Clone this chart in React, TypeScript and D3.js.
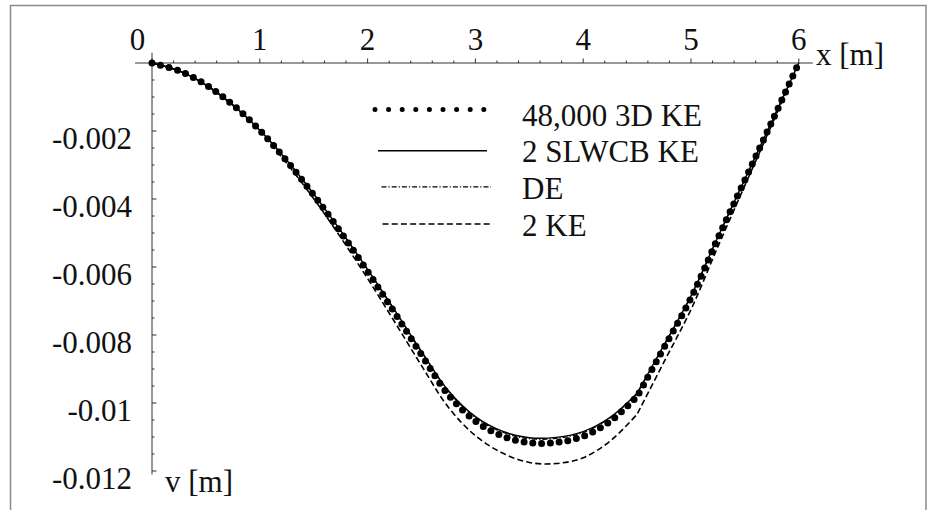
import React from "react";
import * as d3 from "d3";

const xValues = [0, 0.25, 0.5, 0.75, 1, 1.25, 1.5, 1.75, 2, 2.25, 2.5, 2.75, 3, 3.25, 3.5, 3.75, 4, 4.25, 4.5, 4.75, 5, 5.25, 5.5, 5.75, 6];
const ke3d = [0, -0.00023, -0.00064, -0.00123, -0.00198, -0.00288, -0.00388, -0.00497, -0.00613, -0.00734, -0.00858, -0.00976, -0.01053, -0.01097, -0.01117, -0.01116, -0.01098, -0.01054, -0.00981, -0.00837, -0.00691, -0.00515, -0.00344, -0.00173, 0];
const slwcb = [0, -0.00023, -0.00064, -0.00123, -0.00198, -0.00286, -0.00385, -0.00493, -0.00607, -0.00726, -0.00848, -0.00964, -0.0104, -0.01083, -0.01102, -0.01101, -0.01084, -0.01042, -0.00971, -0.00829, -0.00685, -0.00511, -0.00341, -0.00172, 0];
const de = [0, -0.00023, -0.00064, -0.00123, -0.00198, -0.00286, -0.00386, -0.00494, -0.00608, -0.00728, -0.0085, -0.00966, -0.01043, -0.01086, -0.01105, -0.01104, -0.01087, -0.01044, -0.00973, -0.00831, -0.00686, -0.00512, -0.00342, -0.00172, 0];
const ke2 = [0, -0.00023, -0.00065, -0.00125, -0.00202, -0.00295, -0.00399, -0.00513, -0.00634, -0.00761, -0.0089, -0.01013, -0.01096, -0.01147, -0.01175, -0.01178, -0.01161, -0.01112, -0.01033, -0.00879, -0.00725, -0.0054, -0.0036, -0.00181, 0];
const kinkX = 4.5;

const xTickValues = [0, 1, 2, 3, 4, 5, 6];
const yTickValues = [-0.002, -0.004, -0.006, -0.008, -0.01, -0.012];
const yTickLabels = ["-0.002", "-0.004", "-0.006", "-0.008", "-0.01", "-0.012"];
const legendLabels = ["48,000 3D KE", "2 SLWCB KE", "DE", "2 KE"];

const W = 934;
const H = 510;
const FONT = "Liberation Serif, Times New Roman, serif";
const FS = 31;

const x = d3.scaleLinear().domain([0, 6]).range([152, 798.8]);
const y = d3.scaleLinear().domain([-0.012, 0]).range([471, 63]);

function pathFor(vals: number[]): string {
  const pts = xValues.map((xv, i) => [xv, vals[i]] as [number, number]);
  const left = pts.filter((p) => p[0] <= kinkX);
  const right = pts.filter((p) => p[0] >= kinkX);
  const line = d3
    .line<[number, number]>()
    .x((d) => x(d[0]))
    .y((d) => y(d[1]))
    .curve(d3.curveCatmullRom.alpha(0.5));
  const a = line(left) || "";
  const b = (line(right) || "").replace(/^M[^CLQ]*/, "");
  return a + b;
}

const series = [
  { name: legendLabels[0], vals: ke3d, width: 7, dash: "0 8.8", cap: "round", legendWidth: 5, legendDash: "0 13.6" },
  { name: legendLabels[1], vals: slwcb, width: 1.4, dash: "none", cap: "butt", legendWidth: 1.4, legendDash: "none" },
  { name: legendLabels[2], vals: de, width: 1.2, dash: "5 2 1.2 2", cap: "butt", legendWidth: 1.2, legendDash: "5 2 1.2 2" },
  { name: legendLabels[3], vals: ke2, width: 1.6, dash: "6 3.2", cap: "butt", legendWidth: 1.6, legendDash: "6 3.2" },
];

const textStyle = { fontFamily: FONT, fontSize: FS } as React.CSSProperties;

export default function App() {
  const xMinor = d3.range(0, 30.5, 1).map((i) => i * 0.2);
  const yMinor = d3.range(0, 24.5, 1).map((i) => -i * 0.0005);
  const legendTextX = 522;
  const legendBaselines = [125.5, 162, 198.5, 235.5];
  const legendLineY = [109.5, 150.7, 186.8, 224];
  const legendX1 = [375, 378, 381.5, 382.5];
  const legendX2 = [486, 487, 491, 491];

  return (
    <svg
      width={W}
      height={H}
      style={{ position: "absolute", left: 0, top: 0, background: "#fff" }}
    >
      <rect x={0} y={0} width={W} height={H} fill="#fff" />
      <rect x={10.5} y={5.5} width={915.5} height={530} fill="none" stroke="#8a8a8a" strokeWidth={1.5} />

      {/* axes */}
      <line x1={x(-0.157)} x2={x(6.13)} y1={y(0)} y2={y(0)} stroke="#333" strokeWidth={1} />
      <line x1={x(0)} x2={x(0)} y1={y(0.0003)} y2={y(-0.0121)} stroke="#333" strokeWidth={1} />
      {xMinor.map((t, i) => (
        <line
          key={"xt" + i}
          x1={x(t)}
          x2={x(t)}
          y1={y(0)}
          y2={y(0) - (i % 5 === 0 ? 4.5 : 2.5)}
          stroke="#333"
          strokeWidth={1}
        />
      ))}
      {yMinor.map((t, i) => (
        <line
          key={"yt" + i}
          x1={x(0)}
          x2={x(0) + (i % 4 === 0 ? 4.5 : 2.5)}
          y1={y(t)}
          y2={y(t)}
          stroke="#333"
          strokeWidth={1}
        />
      ))}
      {xTickValues.map((t) => (
        <text
          key={"xl" + t}
          x={x(t) + (t === 0 ? -14.5 : 0)}
          y={50}
          style={textStyle}
          textAnchor="middle"
          fill="#111"
        >
          {String(t)}
        </text>
      ))}
      <text x={816} y={65} style={textStyle} fill="#111">x [m]</text>
      {yTickValues.map((t, i) => (
        <text key={"yl" + i} x={132} y={y(t) + 18} style={textStyle} textAnchor="end" fill="#111">
          {yTickLabels[i]}
        </text>
      ))}
      <text x={165} y={491.5} style={textStyle} fill="#111">v [m]</text>

      {/* curves */}
      {series.map((s, i) => (
        <path
          key={"p" + i}
          d={pathFor(s.vals)}
          fill="none"
          stroke="#000"
          strokeWidth={s.width}
          strokeDasharray={s.dash}
          strokeLinecap={s.cap as any}
        />
      ))}

      {/* legend */}
      {series.map((s, i) => (
        <g key={"lg" + i}>
          <line
            x1={legendX1[i]}
            x2={legendX2[i]}
            y1={legendLineY[i]}
            y2={legendLineY[i]}
            stroke="#000"
            strokeWidth={s.legendWidth}
            strokeDasharray={s.legendDash}
            strokeLinecap={s.cap as any}
          />
          <text x={legendTextX} y={legendBaselines[i]} style={textStyle} fill="#111">
            {s.name}
          </text>
        </g>
      ))}
    </svg>
  );
}
